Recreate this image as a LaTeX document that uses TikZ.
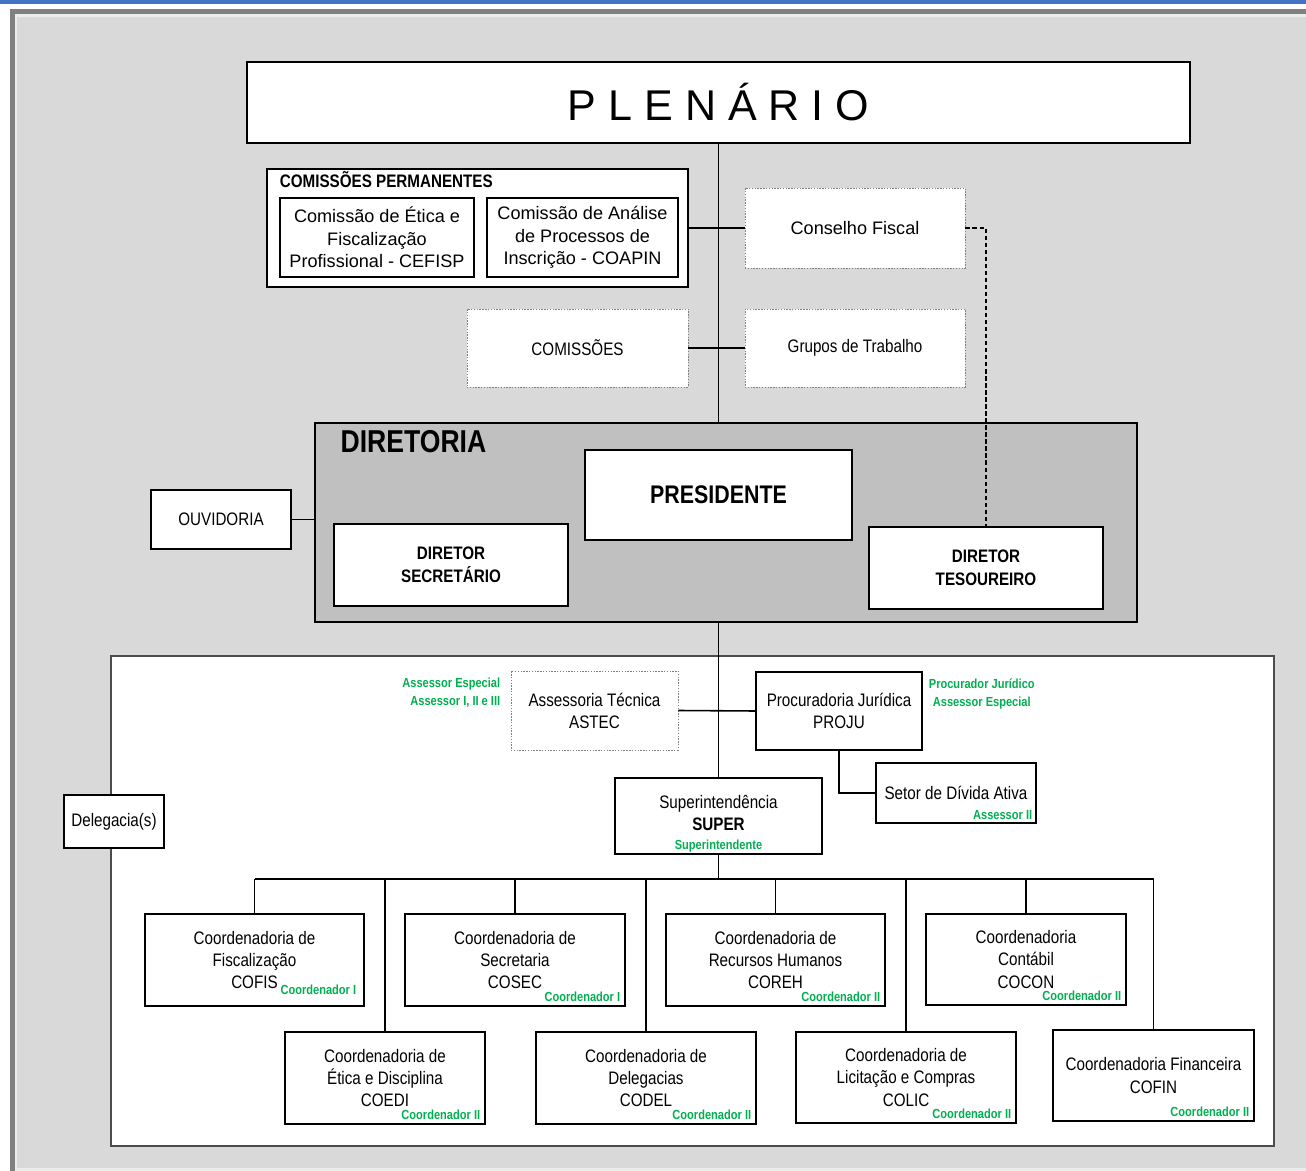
\documentclass[tikz,border=0pt]{standalone}
\usepackage{fontspec}
\setmainfont{Liberation Sans}
\newfontfamily\narrowfont[FakeStretch=0.84]{Liberation Sans}
\usetikzlibrary{positioning}
\definecolor{bggray}{HTML}{D9D9D9}
\definecolor{dirgray}{HTML}{C0C0C0}
\definecolor{framegray}{HTML}{808080}
\definecolor{topblue}{HTML}{4472C4}
\definecolor{grn}{HTML}{00B050}
\tikzset{
box/.style={draw, fill=white, line width=0.6pt, align=center, inner sep=1pt}, % plain white box
dotbox/.style={box, draw=gray, dash pattern=on 0.8pt off 0.8pt, line width=0.5pt}, % dotted box
sz/.style 2 args={minimum width=#1*0.2mm, minimum height=#2*0.2mm}, % size in pixels
link/.style={line width=0.9pt}, % connector
nar/.style={font=\narrowfont\fontsize{10.3}{12.6}\selectfont}, % narrow text
reg/.style={font=\fontsize{10.3}{12.8}\selectfont}, % regular text
grn/.style={text=grn, inner sep=0pt, font=\narrowfont\bfseries\fontsize{7.5}{10}\selectfont}, % green role
}
\begin{document}
\begin{tikzpicture}[x=0.2mm, y=-0.2mm]

% page and frame
\path[use as bounding box] (0,0) rectangle (1306,1171);
\clip (0,0) rectangle (1306,1171);
\fill[white] (0,0) rectangle (1306,1171);
\fill[topblue] (0,0) rectangle (1306,4);
\fill[framegray] (10,9) rectangle (1320,1180);
\fill[gray!15] (15,14) rectangle (1320,1171);
\fill[bggray] (17,17) rectangle (1320,1168);

% upper part
\node[box, sz={943}{81}, line width=0.8pt, font=\fontsize{24.5}{28}\selectfont] (plen) at (718.5,102.5) {P L E N Á R I O};

\node[box, sz={421}{118}] (cperm) at (477.5,228) {};
\node[anchor=base west, inner sep=0pt, font=\narrowfont\bfseries\fontsize{10.3}{12}\selectfont] (cpermt) at ([shift={(13,19)}]cperm.north west) {COMISSÕES PERMANENTES};
\node[box, sz={194}{79}, reg] (cefisp) at (377,237.5) {Comissão de Ética e\\Fiscalização\\Profissional - CEFISP};
\node[box, sz={191}{79}, reg] (coapin) at (582.5,237.5) {Comissão de Análise\\de Processos de\\Inscrição - COAPIN};

\node[dotbox, sz={220}{80}, reg] (cfis) at (855,228) {Conselho Fiscal};
\node[dotbox, sz={221}{78}, nar] (comis) at (577.5,348) {COMISSÕES};
\node[dotbox, sz={220}{78}, nar] (grupos) at (855,348) {Grupos de Trabalho};

% diretoria
\node[draw, fill=dirgray, line width=0.8pt, sz={822}{199}] (dir) at (726,522.5) {};
\node[anchor=north west, inner sep=0pt, font=\narrowfont\bfseries\fontsize{18}{21}\selectfont] (dirt) at ([shift={(26,8)}]dir.north west) {DIRETORIA};
\node[box, sz={267}{90}, font=\narrowfont\bfseries\fontsize{14.5}{17}\selectfont] (pres) at (718.5,495) {PRESIDENTE};
\node[box, sz={234}{82}, font=\narrowfont\bfseries\fontsize{10.3}{12.8}\selectfont] (dsec) at (451,565) {DIRETOR\\SECRETÁRIO};
\node[box, sz={234}{82}, font=\narrowfont\bfseries\fontsize{10.3}{12.8}\selectfont] (dtes) at (986,568) {DIRETOR\\TESOUREIRO};
\node[box, sz={140}{59}, nar] (ouv) at (221,519.5) {OUVIDORIA};

% executive part
\node[draw=black!70, fill=white, line width=0.6pt, sz={1163}{490}] (exec) at (692.5,901) {};
\node[box, sz={100}{53}, nar] (deleg) at (114,821.5) {Delegacia(s)};

\node[dotbox, sz={167}{79}, nar] (astec) at (594.5,710.5) {Assessoria Técnica\\ASTEC};
\node[grn, anchor=north east, align=right] (astecg) at ([shift={(-10,7)}]astec.north west) {Assessor Especial\\Assessor I, II e III};
\node[box, sz={166}{78}, nar] (proju) at (839,711) {Procuradoria Jurídica\\PROJU};
\node[grn, anchor=north west, align=center] (projug) at ([shift={(6,7)}]proju.north east) {Procurador Jurídico\\Assessor Especial};
\node[box, sz={160}{60}, nar] (divida) at (956,793) {Setor de Dívida Ativa};
\node[grn, anchor=south east] (dividag) at ([shift={(-4,-4)}]divida.south east) {Assessor II};
\node[box, sz={207}{74}, nar] (super) at (718.5,816) {\rule{0pt}{1.6em}Superintendência\\{\bfseries SUPER}\\[-2pt]{\color{grn}\bfseries\fontsize{7.5}{9}\selectfont Superintendente}};

% coordenadorias
\node[box, sz={219}{92}, nar] (cofis) at (254.5,960) {Coordenadoria de\\Fiscalização\\COFIS};
\node[box, sz={220}{92}, nar] (cosec) at (515,960) {Coordenadoria de\\Secretaria\\COSEC};
\node[box, sz={219}{92}, nar] (coreh) at (775.5,960) {Coordenadoria de\\Recursos Humanos\\COREH};
\node[box, sz={200}{91}, nar] (cocon) at (1026,959.5) {Coordenadoria\\Contábil\\COCON};
\node[box, sz={200}{92}, nar] (coedi) at (385,1078) {Coordenadoria de\\Ética e Disciplina\\COEDI};
\node[box, sz={220}{92}, nar] (codel) at (646,1078) {Coordenadoria de\\Delegacias\\CODEL};
\node[box, sz={220}{91}, nar] (colic) at (906,1077.5) {Coordenadoria de\\Licitação e Compras\\COLIC};
\node[box, sz={201}{91}, nar] (cofin) at (1153.5,1075.5) {Coordenadoria Financeira\\COFIN};

\node[grn, anchor=south east] (cofisg) at ([shift={(-8,-12)}]cofis.south east) {Coordenador I};
\foreach \n/\lvl in {cosec/I, coreh/II, cocon/II, coedi/II, codel/II, colic/II, cofin/II}
  \node[grn, anchor=south east] at ([shift={(-5,-5)}]\n.south east) {Coordenador \lvl};

% connectors
\coordinate (bus) at (718,879);
\draw[link] (plen.south) -- (plen.south |- dir.north);
\draw[link] (cperm.east) -- (cfis.west);
\draw[link] (comis.east) -- (grupos.west);
\draw[line width=0.7pt, dash pattern=on 2.5pt off 1.5pt] (cfis.east) -| (dtes.north);
\draw[link] (ouv.east) -- (ouv.east -| dir.west);
\draw[link] (super.north |- dir.south) -- (super.north);
\draw[link] (astec.east) -- (proju.west);
\draw[link] (proju.south) |- (divida.west);
\draw[link] (super.south) -- (super.south |- bus);
\draw[link] (cofis.north |- bus) -- (cofin.north |- bus);
\foreach \n in {cofis, cosec, coreh, cocon, coedi, codel, colic, cofin}
  \draw[link] (\n.north) -- (\n.north |- bus);

\end{tikzpicture}
\end{document}
